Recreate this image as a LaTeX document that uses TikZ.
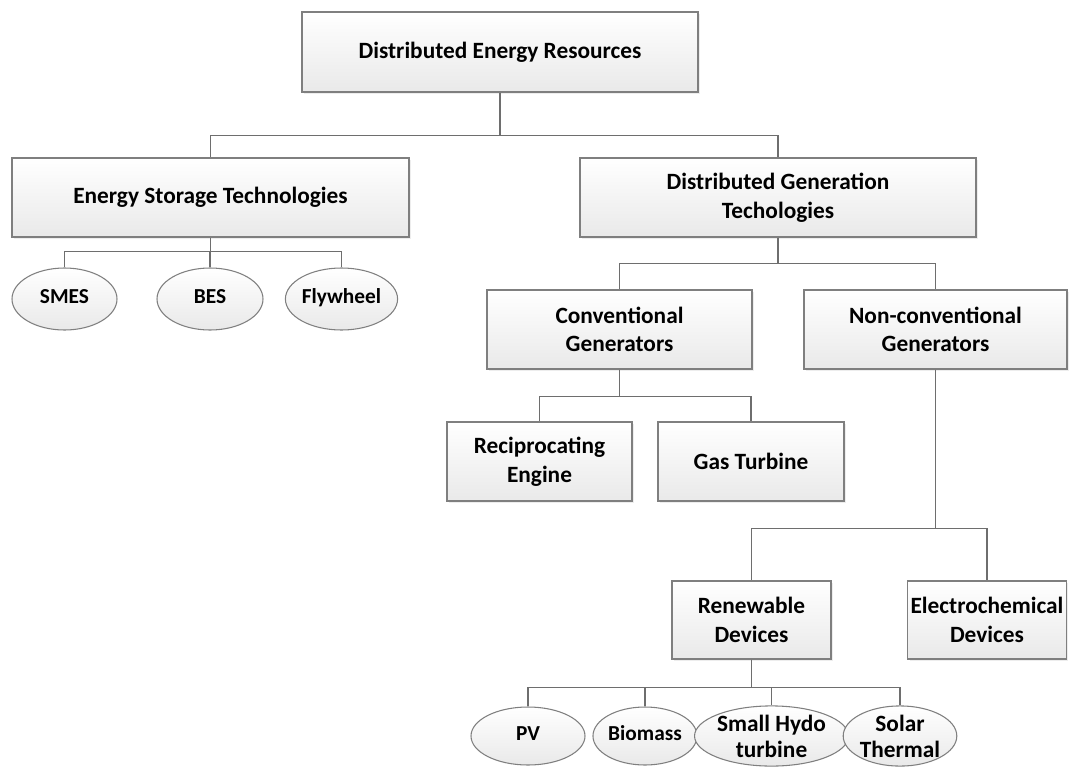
\documentclass[tikz,border=0pt]{standalone}
\usepackage{fontspec}
\setmainfont{Carlito}
\usepackage{tikz}
\usetikzlibrary{positioning,shapes.geometric,shadows}
\definecolor{edgegray}{HTML}{7F7F7F}
\definecolor{linegray}{HTML}{6E6E6E}
\definecolor{shadegray}{HTML}{E9E9E9}
\newdimen\derpx \derpx=0.75pt
\tikzset{
  derbox/.style={draw=edgegray, line width=0.8pt, align=center, inner sep=2pt,
    top color=white, bottom color=shadegray,
    drop shadow={shadow xshift=1.6pt, shadow yshift=-1.6pt, fill=black!14},
    font=\bfseries\fontsize{17.5}{21.5}\selectfont},
  derleaf/.style={draw=edgegray, line width=0.8pt, align=center, ellipse, inner sep=0pt,
    top color=white, bottom color=shadegray,
    font=\bfseries\fontsize{16}{19.5}\selectfont},
  oneline/.style={text height=1.4ex, text depth=0pt},
  twoline/.style={font=\bfseries\fontsize{17.5}{19.5}\selectfont},
  bus/.style={draw=linegray, line width=0.8pt}
}
\begin{document}
\begin{tikzpicture}[x=0.75pt,y=-0.75pt]
  \useasboundingbox (0,0) rectangle (1070,767);
  % top level
  \node[derbox, minimum width=396\derpx, minimum height=80\derpx] (der) at (500,52) {Distributed Energy Resources};
  \node[derbox, minimum width=397\derpx, minimum height=79\derpx] (est) at (210.5,197.5) {Energy Storage Technologies};
  \node[derbox, minimum width=396\derpx, minimum height=79\derpx] (dgt) at (778,197.5) {Distributed Generation\\Techologies};
  % storage
  \node[derleaf, oneline, minimum width=105\derpx, minimum height=62\derpx] (smes) at (64.5,299) {SMES};
  \node[derleaf, oneline, minimum width=106\derpx, minimum height=62\derpx] (bes) at (210,299) {BES};
  \node[derleaf, oneline, minimum width=107\derpx, minimum height=62\derpx] (fly) at (341.5,299) {Flywheel};
  % generation
  \node[derbox, minimum width=265\derpx, minimum height=79\derpx] (cgen) at (619.5,329.5) {Conventional\\Generators};
  \node[derbox, minimum width=263\derpx, minimum height=79\derpx] (ncgen) at (935.5,329.5) {Non-conventional\\Generators};
  \node[derbox, minimum width=185\derpx, minimum height=79\derpx] (recip) at (539.5,461.5) {Reciprocating\\Engine};
  \node[derbox, minimum width=186\derpx, minimum height=79\derpx] (gast) at (751,461.5) {Gas Turbine};
  \node[derbox, minimum width=159\derpx, minimum height=78\derpx] (renew) at (751.5,620) {Renewable\\Devices};
  \node[derbox, minimum width=156\derpx, minimum height=78\derpx] (electro) at (987,620) {Electrochemical\\Devices};
  % renewable leaves
  \node[derleaf, oneline, minimum width=114\derpx, minimum height=58\derpx] (pv) at (528,736) {PV};
  \node[derleaf, oneline, minimum width=104\derpx, minimum height=58\derpx] (bio) at (645,736) {Biomass};
  \node[derleaf, twoline, minimum width=121\derpx, minimum height=58\derpx] (hydro) at (771.5,736) {Small Hydo\\turbine};
  \node[derleaf, twoline, minimum width=109\derpx, minimum height=58\derpx] (solar) at (900,736) {Solar\\Thermal};
  % connectors
  \draw[bus] (der.south) -- ++(0,43) -| (est.north);
  \draw[bus] (der.south) -- ++(0,43) -| (dgt.north);
  \foreach \leaf in {smes,bes,fly}
    \draw[bus] (est.south) -- ++(0,14) -| (\leaf.north);
  \foreach \sub in {cgen,ncgen}
    \draw[bus] (dgt.south) -- ++(0,26) -| (\sub.north);
  \foreach \sub in {recip,gast}
    \draw[bus] (cgen.south) -- ++(0,27) -| (\sub.north);
  \foreach \sub in {renew,electro}
    \draw[bus] (ncgen.south) -- ++(0,159) -| (\sub.north);
  \foreach \leaf in {pv,bio,hydro,solar}
    \draw[bus] (renew.south) -- ++(0,28) -| (\leaf.north);
\end{tikzpicture}
\end{document}
